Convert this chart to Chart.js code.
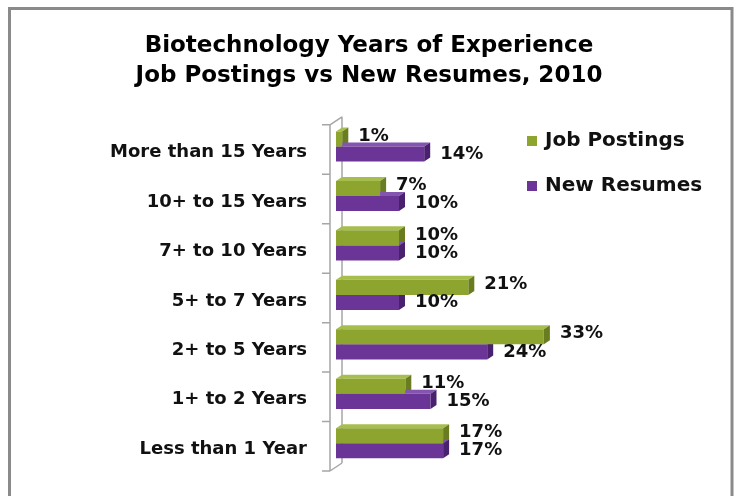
<!DOCTYPE html>
<html>
<head>
<meta charset="utf-8">
<title>Biotechnology Years of Experience</title>
<script src="https://cdn.jsdelivr.net/npm/chart.js@4.4.0/dist/chart.umd.min.js"></script>
<style>
  html, body { margin: 0; padding: 0; background: #fff; }
  canvas { display: block; }
</style>
</head>
<body>
<canvas id="expChart" width="734" height="496"></canvas>
<script>
// Experience buckets, listed top to bottom
const categories = [
    'More than 15 Years',
    '10+ to 15 Years',
    '7+ to 10 Years',
    '5+ to 7 Years',
    '2+ to 5 Years',
    '1+ to 2 Years',
    'Less than 1 Year'
];
const jobPostings = [1, 7, 10, 21, 33, 11, 17]; // percent
const newResumes = [14, 10, 10, 10, 24, 15, 17]; // percent
const seriesNames = ['Job Postings', 'New Resumes'];
const titleLines = ['Biotechnology Years of Experience', 'Job Postings vs New Resumes, 2010'];

const FONT = "'DejaVu Sans', Verdana, sans-serif";
const faceColors = ['#8DA52F', '#6A3596'];
const sideColors = ['#6A7C20', '#4A216E'];
const topColors = ['#A6BE4E', '#8455B0'];
const DEPTH_X = 6;
const DEPTH_Y = 4;

// White background and grey frame round the chart
const framePlugin = {
    id: 'frame',
    beforeDraw(chart) {
        const ctx = chart.ctx;
        ctx.save();
        ctx.fillStyle = '#fff';
        ctx.fillRect(0, 0, chart.width, chart.height);
        ctx.strokeStyle = '#8a8a8a';
        ctx.lineWidth = 3;
        ctx.strokeRect(9.5, 8.5, 722.5, 560);
        ctx.restore();
    }
};

// Floor lines of the category axis and the depth faces of each bar
const depthPlugin = {
    id: 'depth',
    beforeDatasetsDraw(chart) {
        const ctx = chart.ctx;
        const area = chart.chartArea;
        ctx.save();
        ctx.strokeStyle = '#a6a6a6';
        ctx.lineWidth = 1.5;
        const fx = area.left - 6;
        const bx = area.left + 6;
        ctx.beginPath();
        ctx.moveTo(fx, area.top + 3);
        ctx.lineTo(fx, area.bottom + 3);
        ctx.moveTo(bx, area.top - 5);
        ctx.lineTo(bx, area.bottom - 5);
        ctx.moveTo(fx, area.top + 3);
        ctx.lineTo(bx, area.top - 5);
        ctx.moveTo(fx, area.bottom + 3);
        ctx.lineTo(bx, area.bottom - 5);
        const band = (area.bottom - area.top) / categories.length;
        for (let i = 0; i <= categories.length; i++) {
            const y = area.top + band * i + 3;
            ctx.moveTo(fx - 8, y);
            ctx.lineTo(fx, y);
        }
        ctx.stroke();

        // top and right faces sit behind the front faces drawn by Chart.js
        chart.data.datasets.forEach((ds, di) => {
            chart.getDatasetMeta(di).data.forEach(bar => {
                const left = bar.base;
                const right = bar.x;
                const top = bar.y - bar.height / 2;
                const bottom = bar.y + bar.height / 2;

                ctx.fillStyle = topColors[di];
                ctx.beginPath();
                ctx.moveTo(left, top);
                ctx.lineTo(left + DEPTH_X, top - DEPTH_Y);
                ctx.lineTo(right + DEPTH_X, top - DEPTH_Y);
                ctx.lineTo(right, top);
                ctx.closePath();
                ctx.fill();

                ctx.fillStyle = sideColors[di];
                ctx.beginPath();
                ctx.moveTo(right, top);
                ctx.lineTo(right + DEPTH_X, top - DEPTH_Y);
                ctx.lineTo(right + DEPTH_X, bottom - DEPTH_Y);
                ctx.lineTo(right, bottom);
                ctx.closePath();
                ctx.fill();
            });
        });
        ctx.restore();
    }
};

// Percent labels at the bar ends, and the legend on the right
const valueLabelPlugin = {
    id: 'valueLabels',
    afterDatasetsDraw(chart) {
        const ctx = chart.ctx;
        ctx.save();
        ctx.font = `bold 18px ${FONT}`;
        ctx.fillStyle = '#111';
        ctx.textAlign = 'left';
        ctx.textBaseline = 'middle';
        chart.data.datasets.forEach((ds, di) => {
            chart.getDatasetMeta(di).data.forEach((bar, i) => {
                ctx.fillText(ds.data[i] + '%', bar.x + 16, bar.y + (di === 0 ? -3 : 0));
            });
        });

        ctx.font = `bold 20px ${FONT}`;
        chart.data.datasets.forEach((ds, di) => {
            const y = 141 + di * 45;
            ctx.fillStyle = faceColors[di];
            ctx.fillRect(527, y - 5, 10, 10);
            ctx.fillStyle = '#111';
            ctx.fillText(ds.label, 545, y);
        });
        ctx.restore();
    }
};

new Chart(document.getElementById('expChart'), {
    type: 'bar',
    data: {
        labels: categories,
        datasets: [
            { label: seriesNames[0], data: jobPostings, backgroundColor: faceColors[0] },
            { label: seriesNames[1], data: newResumes, backgroundColor: faceColors[1] }
        ]
    },
    options: {
        indexAxis: 'y',
        responsive: false,
        animation: false,
        devicePixelRatio: 1,
        categoryPercentage: 0.61,
        barPercentage: 1,
        layout: { padding: { left: 24, right: 20, top: 0, bottom: 28 } },
        plugins: {
            legend: { display: false },
            tooltip: { enabled: false },
            title: {
                display: true,
                text: titleLines,
                color: '#000',
                font: { family: FONT, size: 23, weight: 'bold', lineHeight: 1.3 },
                padding: { top: 31, bottom: 31 }
            }
        },
        scales: {
            x: { display: false, min: 0, max: 60 },
            y: {
                grid: { display: false, drawTicks: false },
                border: { display: false },
                ticks: {
                    color: '#111',
                    padding: 29,
                    labelOffset: 6,
                    font: { family: FONT, size: 18, weight: 'bold' }
                },
                afterFit(scale) {
                    scale.width = 312;
                    scale.paddingTop = 0;
                    scale.paddingBottom = 0;
                }
            }
        }
    },
    plugins: [framePlugin, depthPlugin, valueLabelPlugin]
});
</script>
</body>
</html>
